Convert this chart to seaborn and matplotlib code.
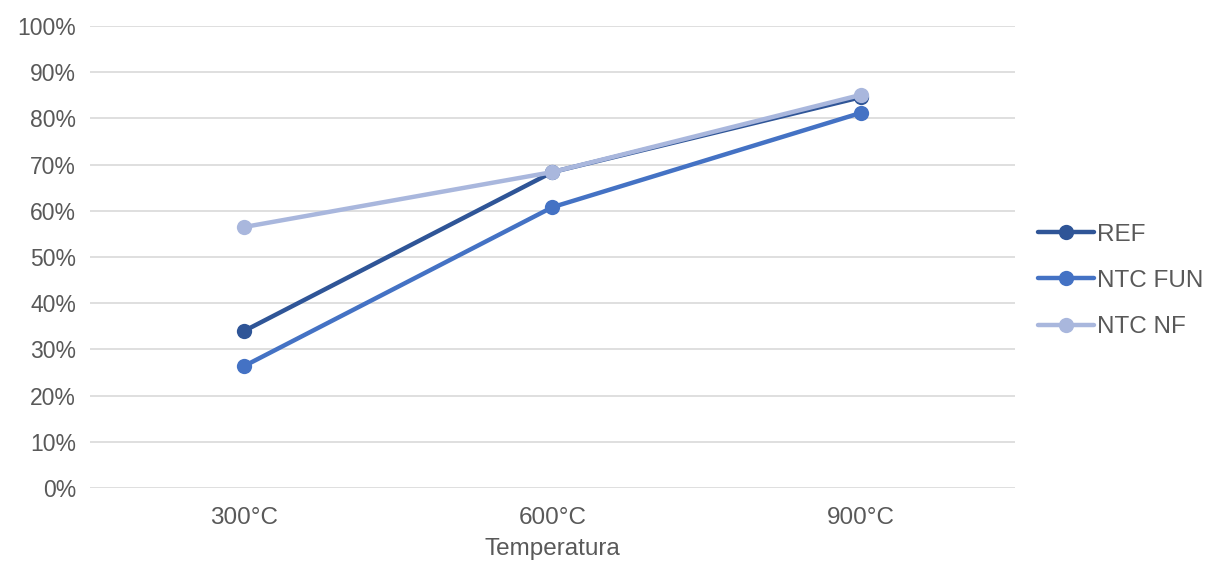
import matplotlib
matplotlib.use("Agg")
import matplotlib.pyplot as plt
import seaborn as sns
import pandas as pd
from matplotlib.ticker import PercentFormatter

categories = ["300°C", "600°C", "900°C"]
ref = [0.34, 0.684, 0.846]
ntc_fun = [0.264, 0.608, 0.812]
ntc_nf = [0.565, 0.684, 0.851]
series_names = ["REF", "NTC FUN", "NTC NF"]
colors = ["#2F5597", "#4472C4", "#A9B7DD"]

rows = []
for name, vals in zip(series_names, [ref, ntc_fun, ntc_nf]):
    for i, (c, v) in enumerate(zip(categories, vals)):
        rows.append({"x": i, "cat": c, "value": v, "series": name})
df = pd.DataFrame(rows)

sns.set_style("white")
plt.rcParams["font.family"] = ["Liberation Sans", "DejaVu Sans"]

fig = plt.figure(figsize=(12.06, 5.67), dpi=100)
ax = fig.add_axes([0.0746, 0.1393, 0.767, 0.8147])

sns.lineplot(data=df, x="x", y="value", hue="series", hue_order=series_names,
             palette=colors, marker="o", markersize=11, linewidth=3.2,
             markeredgewidth=0, ax=ax, sort=False)

ax.set_xlim(-0.5, 2.5)
ax.set_ylim(0, 1.0)
ax.set_xticks(range(len(categories)))
ax.set_xticklabels(categories)
ax.set_yticks([i / 10 for i in range(11)])
ax.yaxis.set_major_formatter(PercentFormatter(1.0, decimals=0))
ax.grid(axis="y", color="#D9D9D9", linewidth=1.2)
ax.grid(axis="x", visible=False)
for s in ax.spines.values():
    s.set_visible(False)
ax.tick_params(axis="x", colors="#595959", labelsize=17.5, length=0, pad=14)
ax.tick_params(axis="y", colors="#595959", labelsize=16.5, length=0, pad=10)
ax.set_xlabel("Temperatura", fontsize=17.5, color="#595959", labelpad=6)
ax.set_ylabel("")

handles, labels = ax.get_legend_handles_labels()
ax.legend_.remove()
fig.legend(handles, labels, loc="center left",
           bbox_to_anchor=(1038 / 1206, 1 - 281 / 567), frameon=False,
           fontsize=17.5, handlelength=2.3, handletextpad=0.12,
           labelspacing=1.0, labelcolor="#595959", borderaxespad=0,
           borderpad=0)

fig.savefig("out.png", dpi=100)
